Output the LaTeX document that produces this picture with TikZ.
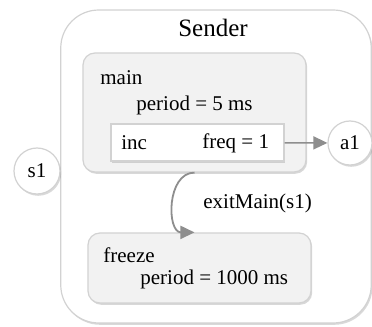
\documentclass[tikz,border=0pt]{standalone}
\usepackage{fontspec}
\setmainfont{Liberation Serif}
\usetikzlibrary{arrows.meta,shadows}
\definecolor{boxfill}{HTML}{F2F2F2}
\definecolor{boxline}{HTML}{D2D2D2}
\definecolor{arrline}{HTML}{8E8E8E}
\tikzset{
  soft shadow/.style={drop shadow={shadow xshift=0.6pt,shadow yshift=-0.9pt,opacity=0.3}},
  txt/.style={anchor=west,inner sep=0pt}
}
\begin{document}
\begin{tikzpicture}[x=0.5pt,y=-0.5pt,>={Triangle[width=6.5pt,length=7pt]},font=\fontsize{10.5}{12}\selectfont]
        \useasboundingbox (0,0) rectangle (372,327);
        \begin{scope}[every node/.style={draw=boxline,line width=0.6pt,inner sep=0pt,soft shadow}]
            \node [rectangle,rounded corners=19pt,fill=white,minimum width=155.25pt,minimum height=156.5pt](Sender) at (216,166.5) {};
            \node [rectangle,rounded corners=6pt,fill=boxfill,minimum width=111.5pt,minimum height=59.5pt](Main) at (194.5,112.5) {};
            \node [rectangle,fill=white,minimum width=86.5pt,minimum height=18.5pt](Inc) at (197.5,142.5) {};
            \node [rectangle,rounded corners=6pt,fill=boxfill,minimum width=111.5pt,minimum height=35pt](Freeze) at (199.5,268) {};
            \node [circle,fill=white,minimum size=23pt](S1) at (37,171) {s1};
            \node [circle,fill=white,minimum size=22pt](A1) at (350,143) {a1};
        \end{scope}
        \node [font=\fontsize{12.5}{14}\selectfont](Title) at (213,28) {Sender};
        \node [txt](MainName) at (100,78) {main};
        \node [txt](MainPeriod) at (136,105) {period = 5 ms};
        \node [txt](IncName) at (121,143) {inc};
        \node [txt](IncFreq) at (202,143) {freq = 1};
        \node [txt](FreezeName) at (103,255) {freeze};
        \node [txt](FreezePeriod) at (140,279) {period = 1000 ms};
        \node [txt](Exit) at (203,203) {exitMain(s1)};
        \draw [->,arrline,line width=0.75pt](Inc) -- (A1);
        \draw [->,arrline,line width=0.9pt](Main.south) to [bend right=90,looseness=1.2] (Main.south |- Freeze.north);
\end{tikzpicture}
\end{document}
